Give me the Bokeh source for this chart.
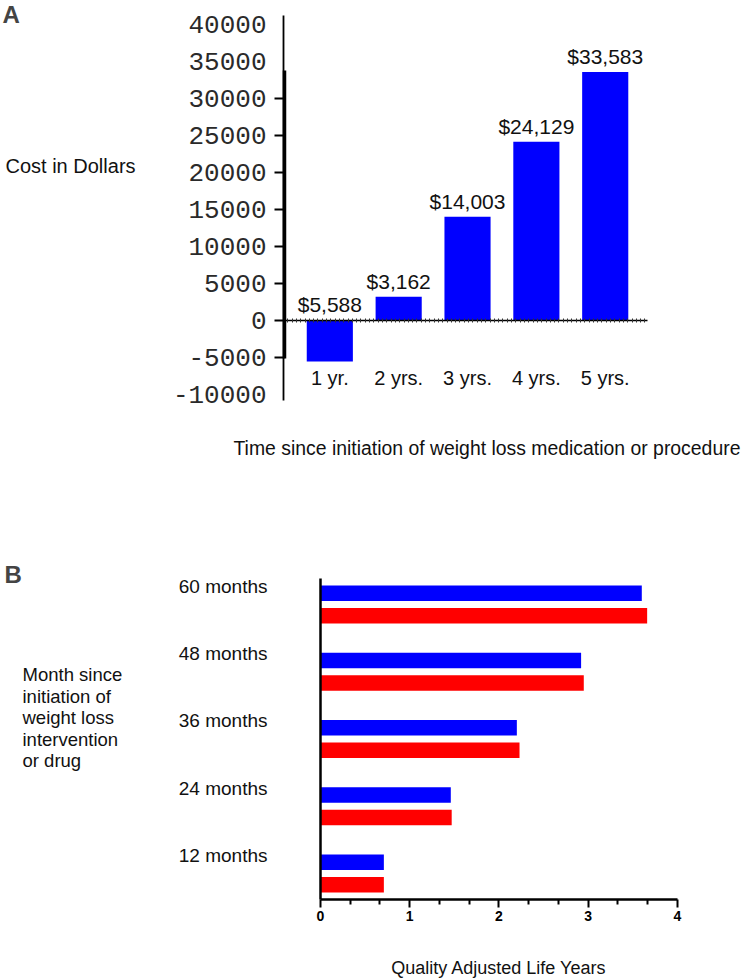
import numpy as np
from bokeh.plotting import figure
from bokeh.layouts import column
from bokeh.models import Label, FixedTicker, Range1d, LinearAxis
from bokeh.core.properties import value
from bokeh.embed import file_html
from bokeh.resources import INLINE

# ---------------- data ----------------
# Panel A
years = ["1 yr.", "2 yrs.", "3 yrs.", "4 yrs.", "5 yrs."]
cost = [-5588, 3162, 14003, 24129, 33583]
cost_labels = ["$5,588", "$3,162", "$14,003", "$24,129", "$33,583"]
cost_ticks = [-10000, -5000, 0, 5000, 10000, 15000, 20000, 25000, 30000, 35000, 40000]
cost_ticks_marked = [-5000, 0, 5000, 10000, 15000, 20000, 25000, 30000]

# Panel B
months = ["12 months", "24 months", "36 months", "48 months", "60 months"]
qaly_blue = [0.71, 1.46, 2.20, 2.92, 3.60]
qaly_red = [0.71, 1.47, 2.23, 2.95, 3.66]
qaly_ticks = [0, 1, 2, 3, 4]

SANS = "Liberation Sans"
MONO = "Liberation Mono"
W = 750
HA, HB = 500, 479

# ---------------- Panel A ----------------
xa = list(range(1, len(years) + 1))
pA = figure(width=W, height=HA,
            x_range=Range1d(-3.783, 7.110), y_range=Range1d(-24391, 43249),
            output_backend="svg", toolbar_location=None, min_border=0)
pA.outline_line_color = None
pA.grid.visible = False

# thin full-length y axis carrying all tick labels
ya = pA.yaxis[0]
ya.fixed_location = 0.3275
ya.bounds = (-10866, 41230)
ya.ticker = FixedTicker(ticks=cost_ticks)
ya.major_label_overrides = {t: str(t) for t in cost_ticks}
ya.minor_tick_line_color = None
ya.major_tick_line_color = None
ya.major_tick_in = 0
ya.major_tick_out = 10
ya.axis_line_width = 1.8
ya.major_label_standoff = 7
ya.major_label_text_font = MONO
ya.major_label_text_font_size = "26px"
ya.major_label_text_color = "#2a2a2a"

# thick segment of the y axis with tick marks
ya2 = LinearAxis(fixed_location=0.345, bounds=(-5180, 33780),
                 ticker=FixedTicker(ticks=cost_ticks_marked))
ya2.minor_tick_line_color = None
ya2.major_tick_in = 0
ya2.major_tick_out = 10
ya2.major_tick_line_width = 2
ya2.axis_line_width = 3.5
ya2.major_label_text_color = None
ya2.major_label_text_font_size = "1px"
pA.add_layout(ya2, "left")

# zero line (x axis at 0 with dotted minor marks)
xa_axis = pA.xaxis[0]
xa_axis.fixed_location = 0
xa_axis.bounds = (0.3275, 5.615)
xa_axis.ticker = FixedTicker(ticks=[], minor_ticks=list(np.arange(0.3275, 5.615, 0.0625)))
xa_axis.axis_line_width = 1.5
xa_axis.axis_line_color = "black"
xa_axis.minor_tick_in = 2
xa_axis.minor_tick_out = 2
xa_axis.minor_tick_line_width = 1
xa_axis.minor_tick_line_color = "#333333"
xa_axis.major_tick_line_color = None

pA.vbar(x=xa, top=cost, bottom=0, width=0.67, fill_color="#0000FF", line_color=None, level="underlay")

label_y = [max(v, 0) for v in cost]
pA.text(x=xa, y=label_y, text=cost_labels, text_align="center", text_baseline="bottom",
        y_offset=-4, text_font=value(SANS), text_font_size="21px", text_color="#111111")
pA.text(x=xa, y=[0] * len(years), text=years, text_align="center", text_baseline="middle",
        y_offset=58, text_font=value(SANS), text_font_size="20px", text_color="#111111")

pA.add_layout(Label(x=2, y=HA, x_units="screen", y_units="screen", text="A",
                    text_font=SANS, text_font_size="24px", text_font_style="bold",
                    text_baseline="top", text_align="left"))
pA.add_layout(Label(x=5, y=HA - 165, x_units="screen", y_units="screen", text="Cost in Dollars",
                    text_font=SANS, text_font_size="20px", text_baseline="middle",
                    text_align="left", text_color="#111111"))
pA.add_layout(Label(x=233, y=HA - 447, x_units="screen", y_units="screen",
                    text="Time since initiation of weight loss medication or procedure",
                    text_font=SANS, text_font_size="19.4px", text_baseline="middle",
                    text_align="left", text_color="#111111"))

# ---------------- Panel B ----------------
yb = list(range(1, len(months) + 1))
off = 0.167
pB = figure(width=W, height=HB,
            x_range=Range1d(-3.5854, 4.818), y_range=Range1d(-0.576, 6.546),
            output_backend="svg", toolbar_location=None, min_border=0)
pB.outline_line_color = None
pB.grid.visible = False

pB.hbar(y=[v + off for v in yb], right=qaly_blue, left=0, height=0.23,
        fill_color="#0000FF", line_color=None, level="underlay")
pB.hbar(y=[v - off for v in yb], right=qaly_red, left=0, height=0.23,
        fill_color="#FF0000", line_color=None, level="underlay")

xb = pB.xaxis[0]
xb.fixed_location = 0.613
xb.bounds = (qaly_ticks[0], qaly_ticks[-1])
xb.ticker = FixedTicker(ticks=qaly_ticks,
                        minor_ticks=[t + k / 3 for t in qaly_ticks[:-1] for k in (1, 2)])
xb.axis_line_width = 2.5
xb.major_tick_in = 0
xb.major_tick_out = 8
xb.major_tick_line_width = 2
xb.minor_tick_in = 0
xb.minor_tick_out = 5
xb.minor_tick_line_width = 2
xb.major_label_standoff = 3
xb.major_label_text_font = SANS
xb.major_label_text_font_size = "14px"
xb.major_label_text_font_style = "bold"
xb.major_label_text_color = "black"
xb.axis_label = "Quality Adjusted Life Years"
xb.axis_label_text_font = SANS
xb.axis_label_text_font_size = "18px"
xb.axis_label_text_font_style = "normal"
xb.axis_label_text_color = "#111111"
xb.axis_label_standoff = 34

ybx = pB.yaxis[0]
ybx.fixed_location = 0
ybx.bounds = (0.613, 5.387)
ybx.ticker = FixedTicker(ticks=[v + 0.27 for v in yb])
ybx.major_label_overrides = {v + 0.27: m for v, m in zip(yb, months)}
ybx.major_tick_line_color = None
ybx.minor_tick_line_color = None
ybx.major_tick_out = 0
ybx.major_tick_in = 0
ybx.axis_line_width = 2.5
ybx.major_label_standoff = 53
ybx.major_label_text_font = SANS
ybx.major_label_text_font_size = "19px"
ybx.major_label_text_color = "#111111"

pB.add_layout(Label(x=4, y=HB - 60, x_units="screen", y_units="screen", text="B",
                    text_font=SANS, text_font_size="24px", text_font_style="bold",
                    text_baseline="top", text_align="left"))
side_lines = ["Month since", "initiation of", "weight loss", "intervention", "or drug"]
for i, line in enumerate(side_lines):
    pB.add_layout(Label(x=22, y=HB - 174 - i * 21.5, x_units="screen", y_units="screen",
                        text=line, text_font=SANS, text_font_size="18.5px",
                        text_baseline="middle", text_align="left", text_color="#111111"))

layout = column(pA, pB)
open("out.html", "w").write(file_html(layout, INLINE))
